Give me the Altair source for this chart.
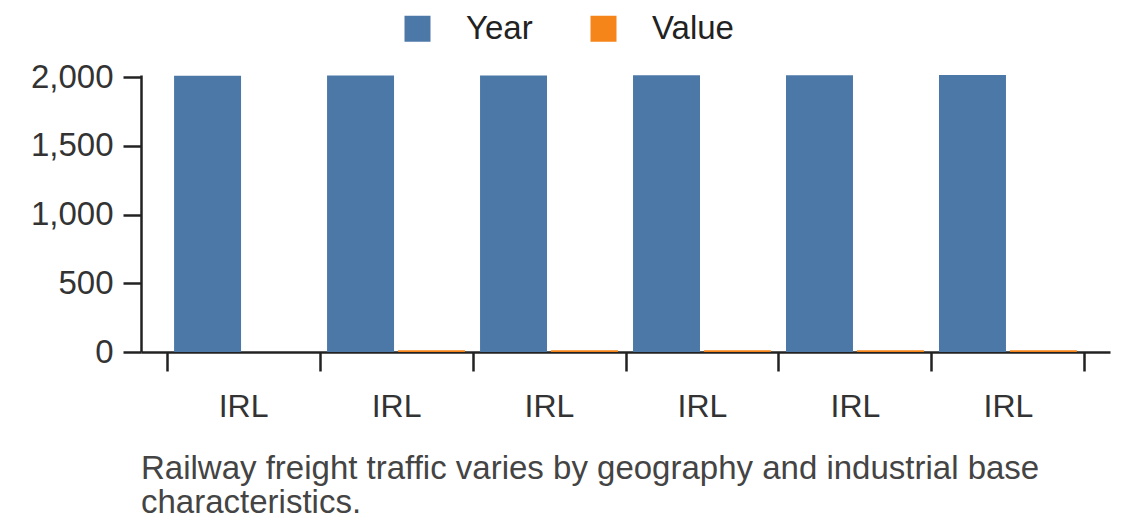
import altair as alt
import pandas as pd

countries = ["IRL", "IRL", "IRL", "IRL", "IRL", "IRL"]
years = [2010, 2011, 2012, 2013, 2014, 2015]
values = [0, 12, 12, 12, 12, 13]
series = ["Year", "Value"]
colors = ["#4c78a8", "#f58518"]
y_ticks = [0, 500, 1000, 1500, 2000]
caption = ["Railway freight traffic varies by geography and industrial base",
           "characteristics."]

keys = [f"{c}|{y}" for c, y in zip(countries, years)]
rows = []
for k, y, v in zip(keys, years, values):
    rows.append({"key": k, "series": "Year", "amount": y})
    rows.append({"key": k, "series": "Value", "amount": v})
df = pd.DataFrame(rows)

FONT = "Liberation Sans"

chart = alt.Chart(df).mark_bar().encode(
    x=alt.X("key:N", sort=keys,
            scale=alt.Scale(paddingInner=0, paddingOuter=0.167),
            axis=alt.Axis(title=None, labelExpr="split(datum.label, '|')[0]",
                          tickBand="extent", labelAngle=0, tickSize=19,
                          tickWidth=2.5, domainWidth=2.5, domainColor="#222",
                          tickColor="#222", labelFontSize=32, labelColor="#333",
                          labelPadding=20, labelFont=FONT)),
    xOffset=alt.XOffset("series:N", sort=series,
                        scale=alt.Scale(paddingInner=0.056, paddingOuter=0.106)),
    y=alt.Y("amount:Q", scale=alt.Scale(nice=False, zero=True),
            axis=alt.Axis(title=None, values=y_ticks, format=",.0f", grid=False,
                          tickSize=18, tickWidth=2.5, domainWidth=2.5,
                          domainColor="#222", tickColor="#222",
                          labelFontSize=33, labelColor="#333", labelPadding=10,
                          labelFont=FONT)),
    color=alt.Color("series:N", sort=series,
                    scale=alt.Scale(domain=series, range=colors),
                    legend=alt.Legend(orient="none", legendX=260, legendY=-63,
                                      direction="horizontal", title=None,
                                      symbolType="square", symbolSize=676,
                                      symbolStrokeWidth=0, symbolOpacity=1,
                                      labelFontSize=33, labelOffset=32,
                                      columnPadding=54, padding=0,
                                      labelColor="#222", labelFont=FONT)),
).properties(
    width=969,
    height=277,
    autosize=alt.AutoSizeParams(type="none"),
    padding={"left": 133, "top": 67, "right": 20, "bottom": 172},
    title=alt.TitleParams(caption, orient="bottom", anchor="start",
                          frame="group", fontSize=33, font=FONT,
                          fontWeight="normal", color="#444", offset=31,
                          baseline="top", lineHeight=34),
).configure(font=FONT).configure_view(stroke=None)

chart.save("out.html", embed_options={"renderer": "svg", "actions": False})
